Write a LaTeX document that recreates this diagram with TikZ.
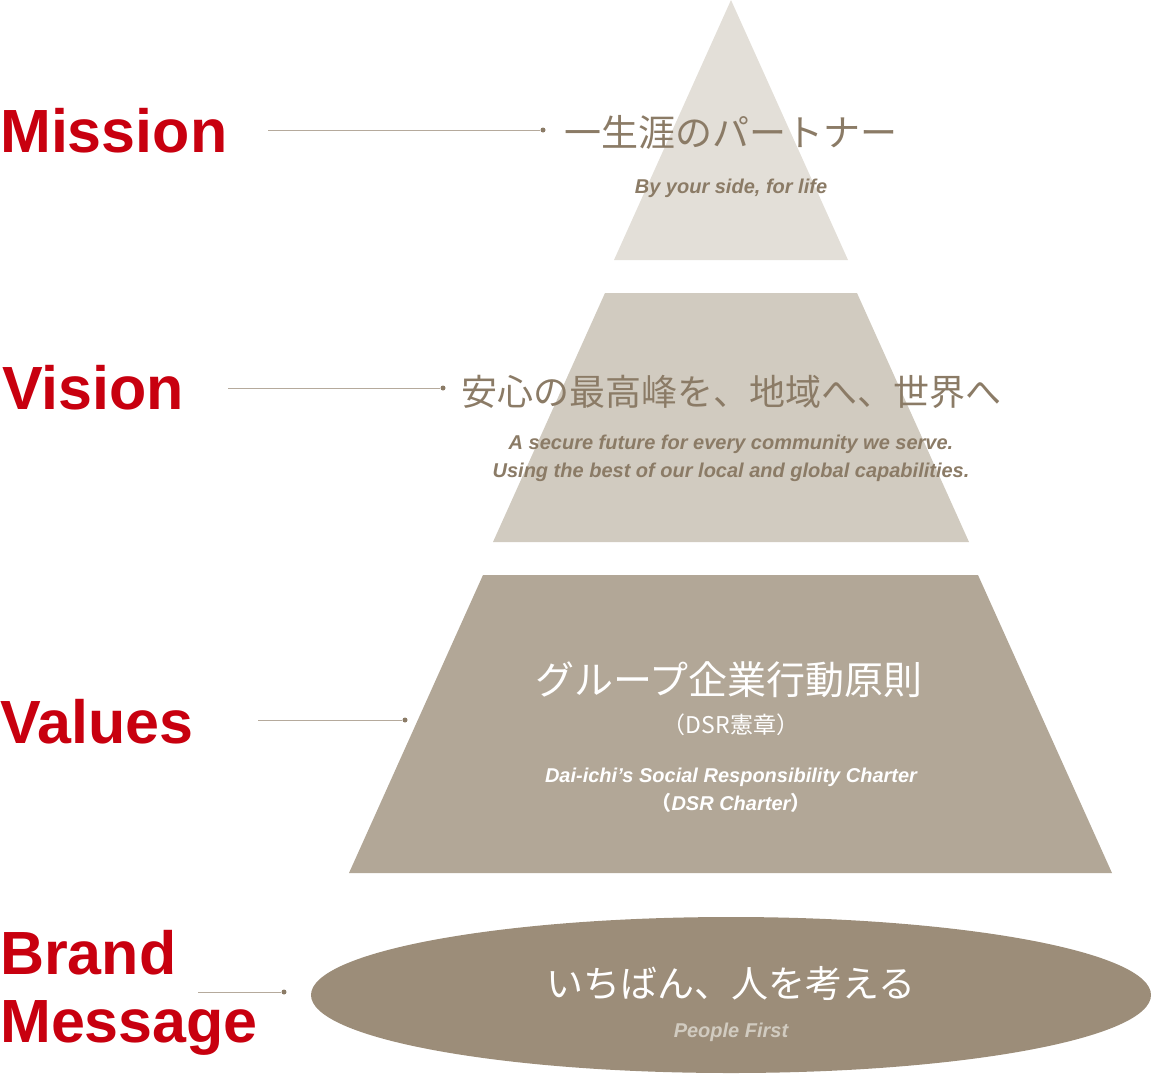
\documentclass[tikz,border=0pt]{standalone}
\usepackage{fontspec}
\setmainfont{Liberation Sans}
\newfontfamily\jp{Noto Sans CJK JP}
\definecolor{red1}{HTML}{C8000F}
\definecolor{tx}{HTML}{8B7B66}
\definecolor{c1}{HTML}{E3DFD8}
\definecolor{c2}{HTML}{D1CBC0}
\definecolor{c3}{HTML}{B2A797}
\definecolor{c4}{HTML}{9C8D79}
\definecolor{ln}{HTML}{B5AA9C}
\begin{document}
\begin{tikzpicture}[x=1pt,y=-1pt,
  lab/.style={anchor=west,text=red1,font=\fontsize{61}{62}\selectfont\bfseries,inner sep=0},
  jpt/.style={font=\jp\fontsize{37}{40}\selectfont,inner sep=0},
  ent/.style={font=\fontsize{20}{28}\selectfont\bfseries\itshape,inner sep=0,align=center},
  conn/.style={draw=ln,line width=1pt},
  dotc/.style={circle,fill=tx,inner sep=0,minimum size=5pt}]
\useasboundingbox (0,0) rectangle (1151,1074);
\fill[c1] (731,0) -- (848,260) -- (614,260) -- cycle;
\fill[c2] (605,293) -- (857,293) -- (969,542) -- (493,542) -- cycle;
\fill[c3] (483,575) -- (978,575) -- (1112,873) -- (349,873) -- cycle;
\fill[c4] (731,995) ellipse [x radius=420, y radius=78];
\node[lab] (m) at (0,131) {Mission};
\node[lab] (v) at (2,388) {Vision};
\node[lab] (va) at (0,722) {Values};
\node[lab,align=left,font=\fontsize{61}{68}\selectfont\bfseries] (b) at (0,993) {Brand\\Message};
\coordinate (m1) at (268,130); \node[dotc] (m2) at (543,130) {};
\coordinate (v1) at (228,388); \node[dotc] (v2) at (443,388) {};
\coordinate (va1) at (258,720); \node[dotc] (va2) at (405,720) {};
\coordinate (b1) at (198,992); \node[dotc] (b2) at (284,992) {};
\draw[conn] (m1) -- (m2); \draw[conn] (v1) -- (v2);
\draw[conn] (va1) -- (va2); \draw[conn] (b1) -- (b2);
\node[jpt,text=tx] (mj) at (731,132) {一生涯のパートナー};
\node[ent,text=tx] (me) at (731,188) {By your side, for life};
\node[jpt,text=tx,font=\jp\fontsize{36}{40}\selectfont] (vj) at (731,392) {安心の最高峰を、地域へ、世界へ};
\node[ent,text=tx] (ve) at (731,458) {A secure future for every community we serve.\\Using the best of our local and global capabilities.};
\node[jpt,text=white,font=\jp\fontsize{39}{40}\selectfont] (vaj) at (729,680) {グループ企業行動原則};
\node[font=\jp\fontsize{23}{26}\selectfont,text=white,inner sep=0] (vaj2) at (731,725) {（DSR憲章）};
\node[ent,text=white] (vae) at (731,790) {Dai-ichi's Social Responsibility Charter\\{\jp\upshape（}DSR Charter{\jp\upshape）}};
\node[jpt,text=white] (bj) at (731,983) {いちばん、人を考える};
\node[ent,text=c2] (be) at (731,1032) {People First};
\end{tikzpicture}
\end{document}
